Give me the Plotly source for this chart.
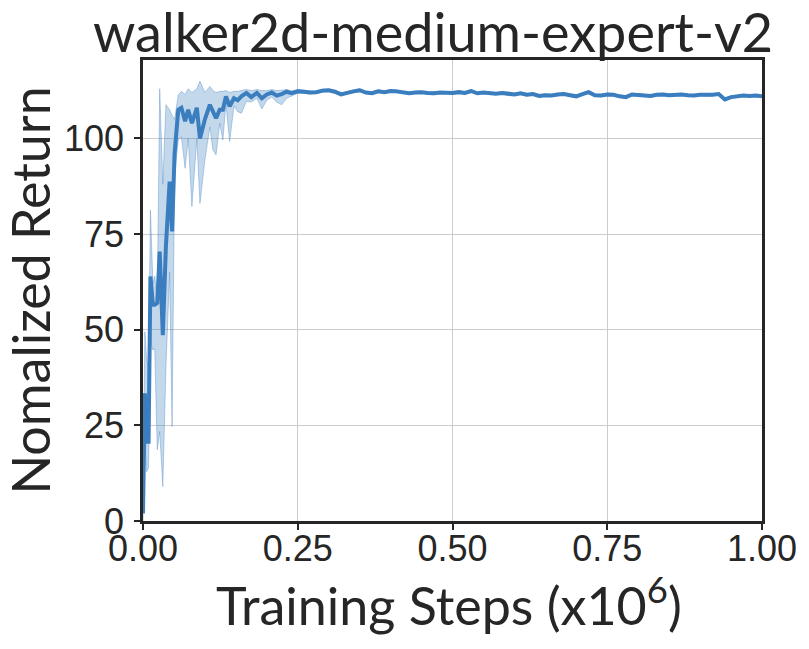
import plotly.graph_objects as go

# early training phase (irregular steps), x in 1e6 steps
steps_early = [0.0, 0.003, 0.006, 0.009, 0.012, 0.016, 0.019, 0.023, 0.027, 0.032,
               0.037, 0.043, 0.047, 0.051, 0.057, 0.062, 0.068, 0.073, 0.079, 0.087,
               0.092, 0.1, 0.108, 0.113, 0.118, 0.124, 0.129, 0.134, 0.14, 0.147,
               0.153, 0.159, 0.167, 0.175, 0.184, 0.192, 0.2, 0.208, 0.216, 0.224,
               0.232, 0.24]
mean_early = [2, 33.4, 20.7, 20.7, 63.9, 56.5, 56.5, 57, 70.4, 48.6,
              71.8, 88.7, 75.7, 96, 107.5, 108, 104.5, 107.5, 104, 108,
              100, 105, 108.8, 107, 105.3, 107.5, 107.5, 111, 108.4, 110.5,
              110, 111, 111.9, 110.8, 111.9, 110.5, 111.5, 112, 111.2, 111.6,
              112.2, 111.8]
upper_early = [4, 49.5, 42, 40, 81.3, 62, 64, 58, 113, 88,
               108.8, 107.5, 106, 105, 111.4, 112.3, 111.5, 113, 112, 113,
               115, 112, 113.6, 112.5, 112, 112.3, 112.3, 112.5, 112, 112.3,
               112.3, 112.5, 112.8, 112.5, 112.8, 112.5, 112.5, 112.8, 112.5, 112.6,
               112.8, 112.4]
lower_early = [0, 20, 12.9, 14, 47, 44.7, 45, 18.6, 23.4, 9,
               40, 65, 24.7, 90, 99.6, 100.5, 92.2, 100, 82.2, 100,
               83, 94.4, 103, 97, 95.7, 104, 99.6, 109, 99.2, 108.5,
               107, 106.6, 109.7, 109.5, 110.5, 107.7, 110, 110.8, 109.5, 108.8,
               110.5, 111]

# converged phase, every 0.01
steps_late = [0.25, 0.26, 0.27, 0.28, 0.29, 0.30, 0.31, 0.32, 0.33, 0.34,
              0.35, 0.36, 0.37, 0.38, 0.39, 0.40, 0.41, 0.42, 0.43, 0.44,
              0.45, 0.46, 0.47, 0.48, 0.49, 0.50, 0.51, 0.52, 0.53, 0.54,
              0.55, 0.56, 0.57, 0.58, 0.59, 0.60, 0.61, 0.62, 0.63, 0.64,
              0.65, 0.66, 0.67, 0.68, 0.69, 0.70, 0.71, 0.72, 0.73, 0.74,
              0.75, 0.76, 0.77, 0.78, 0.79, 0.80, 0.81, 0.82, 0.83, 0.84,
              0.85, 0.86, 0.87, 0.88, 0.89, 0.90, 0.91, 0.92, 0.93, 0.94,
              0.95, 0.96, 0.97, 0.98, 0.99, 1.00]
mean_late = [112.3, 112.2, 112.0, 112.1, 112.5, 112.6, 112.2, 111.5, 112.0, 112.3,
             112.6, 112.0, 111.8, 112.3, 112.1, 112.4, 112.3, 112.0, 111.8, 112.0,
             112.1, 111.9, 111.8, 112.0, 111.9, 111.9, 112.1, 111.9, 112.4, 111.8,
             112.0, 111.9, 111.7, 111.9, 111.6, 111.5, 111.8, 111.4, 111.6, 111.1,
             111.3, 111.2, 111.5, 111.6, 111.3, 111.0, 111.6, 112.1, 111.3, 111.2,
             111.5, 111.4, 111.0, 110.8, 111.5, 111.4, 111.2, 111.1, 111.4, 111.5,
             111.3, 111.4, 111.5, 111.3, 111.2, 111.4, 111.3, 111.4, 111.6, 110.2,
             110.8, 111.0, 111.2, 111.1, 111.2, 111.0]
spread_late = [0.5, 0.4, 0.4, 0.3, 0.4, 0.3, 0.4, 0.4, 0.3, 0.3,
               0.4, 0.3, 0.3, 0.4, 0.3, 0.3, 0.4, 0.3, 0.3, 0.3,
               0.3, 0.3, 0.4, 0.3, 0.3, 0.3, 0.3, 0.3, 0.4, 0.3,
               0.3, 0.3, 0.3, 0.3, 0.4, 0.3, 0.3, 0.3, 0.3, 0.4,
               0.3, 0.3, 0.3, 0.3, 0.3, 0.3, 0.3, 0.4, 0.3, 0.3,
               0.3, 0.3, 0.3, 0.4, 0.3, 0.3, 0.3, 0.3, 0.3, 0.3,
               0.3, 0.3, 0.3, 0.3, 0.3, 0.3, 0.3, 0.3, 0.3, 0.4,
               0.3, 0.3, 0.3, 0.3, 0.3, 0.3]

x = steps_early + steps_late
mean = mean_early + mean_late
upper = upper_early + [m + s for m, s in zip(mean_late, spread_late)]
lower = lower_early + [m - s for m, s in zip(mean_late, spread_late)]

blue = "#3a7ebf"
ink = "#262626"
label_font = dict(family="Lato, sans-serif", size=52, color=ink)

fig = go.Figure()
fig.add_trace(go.Scatter(x=x, y=upper, mode="lines", line=dict(width=0.8, color="rgba(58,126,191,0.45)"),
                         showlegend=False, hoverinfo="skip"))
fig.add_trace(go.Scatter(x=x, y=lower, mode="lines", line=dict(width=0.8, color="rgba(58,126,191,0.45)"),
                         fill="tonexty", fillcolor="rgba(58,126,191,0.3)",
                         showlegend=False, hoverinfo="skip"))
fig.add_trace(go.Scatter(x=x, y=mean, mode="lines", line=dict(width=4, color=blue),
                         showlegend=False))

axis_common = dict(
    showline=True, linecolor=ink, linewidth=2.5, mirror=True,
    ticks="outside", ticklen=6, tickwidth=2, tickcolor=ink,
    showgrid=True, gridcolor="#cccccc", gridwidth=1.3,
    zeroline=False, automargin=False,
    tickfont=dict(family="Liberation Sans, Arial, sans-serif", size=36, color=ink),
)

# the page body adds an 8px offset, so the figure is drawn 8px smaller
fig.update_layout(
    width=801, height=641,
    margin=dict(l=135, r=47, t=52, b=128),
    plot_bgcolor="white", paper_bgcolor="white",
    xaxis=dict(range=[0, 1], tickvals=[0, 0.25, 0.5, 0.75, 1.0],
               ticktext=["0.00", "0.25", "0.50", "0.75", "1.00"],
               ticklabelstandoff=-12, **axis_common),
    yaxis=dict(range=[0, 120.5], tickvals=[0, 25, 50, 75, 100],
               ticklabelstandoff=3, **axis_common),
    annotations=[
        dict(text="walker2d-medium-expert-v2", xref="paper", yref="paper", x=0.468, y=1.061,
             xanchor="center", yanchor="middle", showarrow=False,
             font=dict(family="Lato, sans-serif", size=54, color=ink)),
        dict(text="Training Steps (x10<sup>6</sup>)", xref="paper", yref="paper", x=0.495, y=-0.174,
             xanchor="center", yanchor="middle", showarrow=False, font=label_font),
        dict(text="Nomalized Return", xref="paper", yref="paper", x=-0.184, y=0.50,
             xanchor="center", yanchor="middle", showarrow=False, textangle=-90, font=label_font),
    ],
)

fig.write_html("out.html")
